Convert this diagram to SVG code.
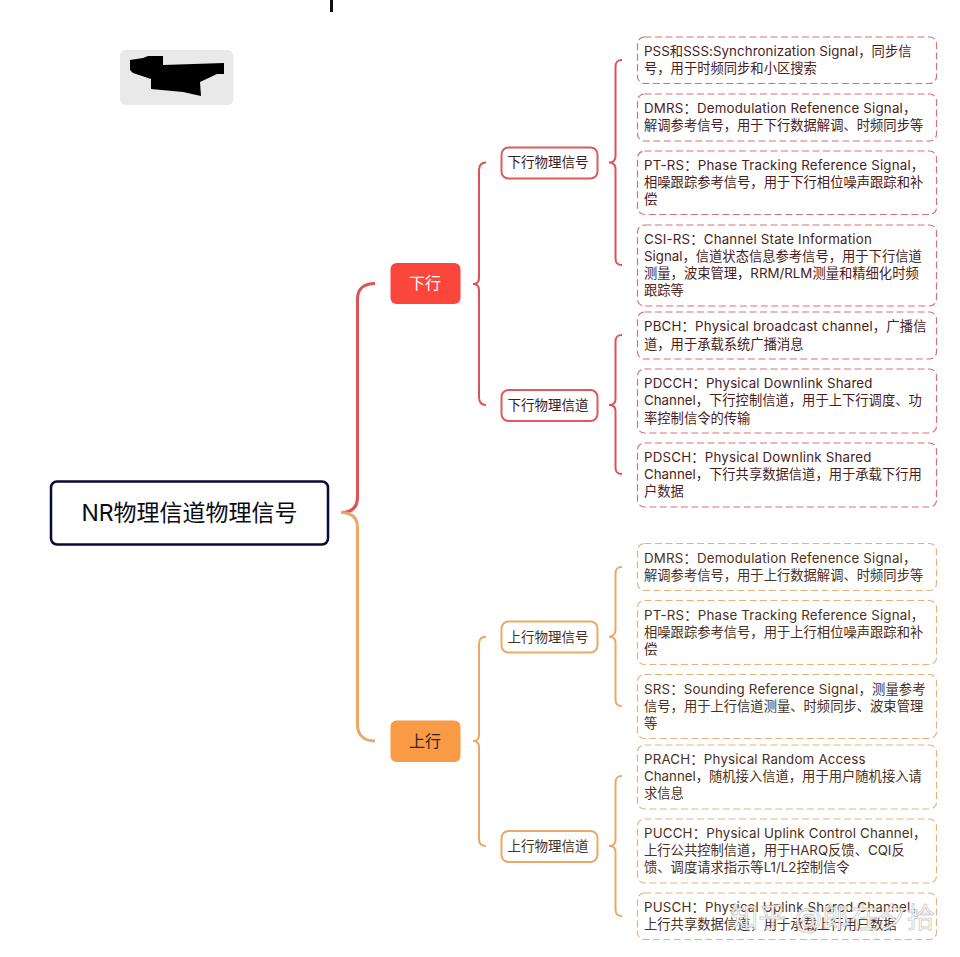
<svg xmlns="http://www.w3.org/2000/svg" width="960" height="957" viewBox="0 0 960 957">
<style>
text{font-family:Inter,"Noto Sans CJK SC","Noto Sans",sans-serif}
.leaf rect{fill:#fff;stroke-width:1.2;stroke-dasharray:7 3.5}
.leaf text{font-size:13.3px}
.leaf text.l{letter-spacing:.2px}
.r rect{stroke:#dc6f76}.r text{fill:#4a1c1c}
.o rect{stroke:#e6b27c}.o text{fill:#4a3020}
.sub rect{fill:#fff;stroke-width:2}
.sub text{font-size:13.500px;text-anchor:middle}
.sr rect{stroke:#dd5a5c}.sr text{fill:#3c2020}
.so rect{stroke:#eba966}.so text{fill:#443020}
.c{fill:none}
.cr{stroke:#dd5257}.co{stroke:#eda765}
.w3{stroke-width:3}.w2{stroke-width:2}
</style>
<rect width="960" height="957" fill="#fff"/>
<g id="connectors">
<path class="c cr w3" d="M341 512.5C352 512.5 357.500 507 357.500 497V299C357.500 289 364 283.500 375 283.500"/>
<path class="c co w3" d="M341 512.500C352 512.500 357.500 518 357.500 528V725C357.500 735 364 741 375 741"/>
<path class="c cr w2" d="M473 284C477 284 479 282 479 278V170C479 165 481 162.500 486 162.500M473 284C477 284 479 286 479 290V397C479 402 481 405 486 405"/>
<path class="c co w2" d="M473 741C477 741 479 739 479 735V644C479 639 481 636.700 486 636.700M473 741C477 741 479 743 479 747V839C479 844 481 846 486 846"/>
<path class="c cr w2" d="M609 162.500C613 162.500 615.500 160 615.500 156V67C615.500 62 617 60 622 60M609 162.500C613 162.500 615.500 165 615.500 169V258C615.500 263 617 265 622 265"/>
<path class="c cr w2" d="M609 405C613 405 615.500 403 615.500 399V342C615.500 337 617 335 622 335M609 405C613 405 615.500 407 615.500 411V467C615.500 472 617 474 622 474"/>
<path class="c co w2" d="M609 636.700C613 636.700 615.500 634 615.500 630V574C615.500 569 617 567 622 567M609 636.700C613 636.700 615.500 639 615.500 643V699C615.500 704 617 706 622 706"/>
<path class="c co w2" d="M609 846C613 846 615.500 844 615.500 840V783C615.500 778 617 776 622 776M609 846C613 846 615.500 848 615.500 852V909C615.500 914 617 916 622 916"/>
</g>
<g id="root"><rect x="51" y="481.500" width="277" height="63" rx="6" fill="#fff" stroke="#0a0a3a" stroke-width="2.500"/><text x="189.500" y="520.500" font-size="23" font-weight="400" text-anchor="middle" fill="#0a0a14">NR物理信道物理信号</text></g>
<g id="image-node"><rect x="120" y="50" width="113.500" height="55" rx="6" fill="#e9e9ea"/><path d="M130 60L143 58L148 56H163V65L224 63V74H217L200 82L201 96L183 92L151 89V79L133 73L130 70Z" fill="#000"/></g>
<rect id="tick" x="330" y="0" width="3" height="12" fill="#111"/>
<g id="down"><rect x="390.500" y="263" width="70" height="41" rx="6" fill="#fb463c"/><text x="425" y="289" font-size="16" text-anchor="middle" fill="#fff">下行</text></g>
<g id="up"><rect x="390.500" y="720.500" width="70" height="41.500" rx="6" fill="#f99a44"/><text x="425" y="747" font-size="16" text-anchor="middle" fill="#33261c">上行</text></g>
<g id="s1" class="sub sr"><rect x="501.500" y="147.500" width="96" height="31" rx="7"/><text x="548" y="167">下行物理信号</text></g>
<g id="s2" class="sub sr"><rect x="501.500" y="390" width="96" height="31" rx="7"/><text x="548" y="410">下行物理信道</text></g>
<g id="s3" class="sub so"><rect x="501.500" y="621.500" width="96" height="31" rx="7"/><text x="548" y="641.500">上行物理信号</text></g>
<g id="s4" class="sub so"><rect x="501.500" y="831" width="96" height="31" rx="7"/><text x="548" y="851">上行物理信道</text></g>
<g id="l1" class="leaf r"><rect x="637.500" y="37" width="299" height="46.500" rx="7"/><text x="644" y="56" letter-spacing=".08">PSS和SSS:Synchronization Signal，同步信</text><text x="644" y="73">号，用于时频同步和小区搜索</text></g>
<g id="l2" class="leaf r"><rect x="637.500" y="94" width="299" height="47" rx="7"/><text class="l" x="644" y="113">DMRS：Demodulation Refenence Signal，</text><text x="644" y="130">解调参考信号，用于下行数据解调、时频同步等</text></g>
<g id="l3" class="leaf r"><rect x="637.500" y="151" width="299" height="63.500" rx="7"/><text class="l" x="644" y="170">PT-RS：Phase Tracking Reference Signal，</text><text x="644" y="187">相噪跟踪参考信号，用于下行相位噪声跟踪和补</text><text x="644" y="204">偿</text></g>
<g id="l4" class="leaf r"><rect x="637.500" y="225" width="299" height="81" rx="7"/><text class="l" x="644" y="244">CSI-RS：Channel State Information</text><text x="644" y="261">Signal，信道状态信息参考信号，用于下行信道</text><text x="644" y="278">测量，波束管理，RRM/RLM测量和精细化时频</text><text x="644" y="295">跟踪等</text></g>
<g id="l5" class="leaf r"><rect x="637.500" y="312" width="299" height="47" rx="7"/><text class="l" x="644" y="331">PBCH：Physical broadcast channel，广播信</text><text x="644" y="349">道，用于承载系统广播消息</text></g>
<g id="l6" class="leaf r"><rect x="637.500" y="369" width="299" height="64" rx="7"/><text class="l" x="644" y="388">PDCCH：Physical Downlink Shared</text><text x="644" y="405">Channel，下行控制信道，用于上下行调度、功</text><text x="644" y="423">率控制信令的传输</text></g>
<g id="l7" class="leaf r"><rect x="637.500" y="443" width="299" height="64" rx="7"/><text class="l" x="644" y="462">PDSCH：Physical Downlink Shared</text><text x="644" y="479">Channel，下行共享数据信道，用于承载下行用</text><text x="644" y="496">户数据</text></g>
<g id="l8" class="leaf o"><rect x="637.500" y="543.500" width="299" height="47" rx="7"/><text class="l" x="644" y="563">DMRS：Demodulation Refenence Signal，</text><text x="644" y="580">解调参考信号，用于上行数据解调、时频同步等</text></g>
<g id="l9" class="leaf o"><rect x="637.500" y="600.500" width="299" height="64" rx="7"/><text class="l" x="644" y="620">PT-RS：Phase Tracking Reference Signal，</text><text x="644" y="637">相噪跟踪参考信号，用于上行相位噪声跟踪和补</text><text x="644" y="654">偿</text></g>
<g id="l10" class="leaf o"><rect x="637.500" y="674.500" width="299" height="64" rx="7"/><text class="l" x="644" y="694">SRS：Sounding Reference Signal，测量参考</text><text x="644" y="711">信号，用于上行信道测量、时频同步、波束管理</text><text x="644" y="728">等</text></g>
<g id="l11" class="leaf o"><rect x="637.500" y="745" width="299" height="64" rx="7"/><text class="l" x="644" y="764">PRACH：Physical Random Access</text><text x="644" y="781">Channel，随机接入信道，用于用户随机接入请</text><text x="644" y="798">求信息</text></g>
<g id="l12" class="leaf o"><rect x="637.500" y="819" width="299" height="64" rx="7"/><text class="l" x="644" y="838">PUCCH：Physical Uplink Control Channel，</text><text x="644" y="855">上行公共控制信道，用于HARQ反馈、CQI反</text><text x="644" y="872">馈、调度请求指示等L1/L2控制信令</text></g>
<g id="l13" class="leaf o"><rect x="637.500" y="893" width="299" height="46.500" rx="7"/><text class="l" x="644" y="912">PUSCH：Physical Uplink Shared Channel，</text><text x="644" y="929">上行共享数据信道，用于承载上行用户数据</text></g>
<text id="watermark" x="730" y="928" font-size="28.300" fill="#fff" fill-opacity="0.85" stroke="#999" stroke-opacity="0.55" stroke-width="0.8">知乎 @郎在夕拾</text>
</svg>
